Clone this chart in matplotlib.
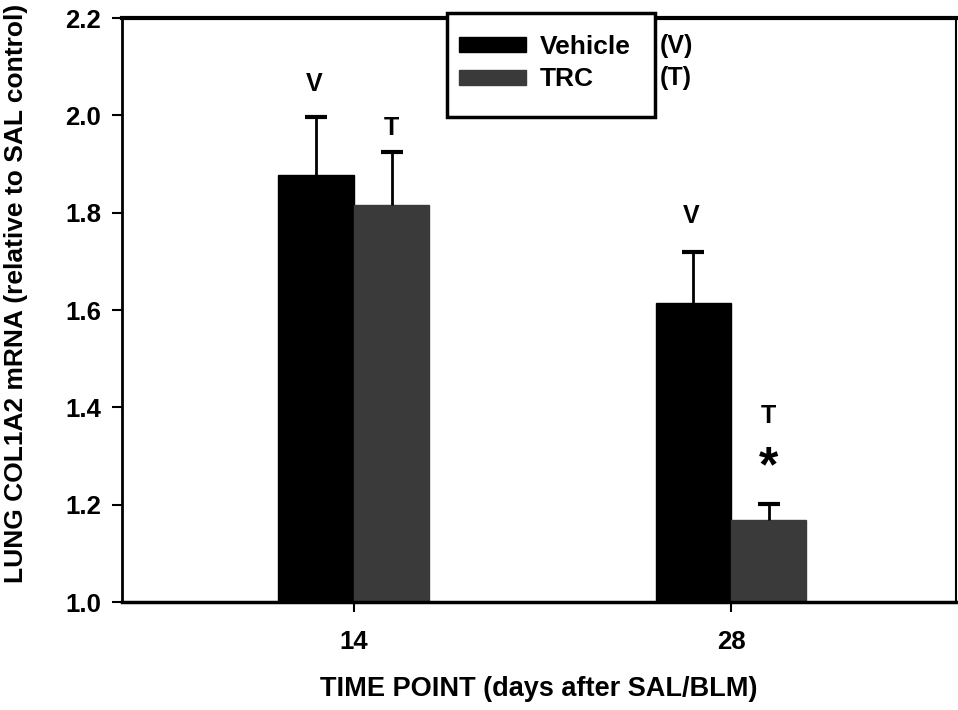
import matplotlib
matplotlib.use("Agg")
import matplotlib.pyplot as plt
from matplotlib.patches import Rectangle
import numpy as np

plt.rcParams['font.family'] = ['Liberation Sans', 'DejaVu Sans']
plt.rcParams['font.weight'] = 'bold'

# data
time_points = ["14", "28"]
vehicle = [1.877, 1.614]
vehicle_err = [0.120, 0.105]
trc = [1.816, 1.169]
trc_err = [0.109, 0.033]

# letters drawn above bars
vehicle_marks = ["V", "V"]
vehicle_mark_y = [2.064, 1.793]
trc_marks = ["T", "T"]
trc_mark_y = [1.975, 1.382]

fig = plt.figure(figsize=(9.58, 7.10), dpi=100)
ax = fig.add_axes([0.1273, 0.1521, 0.8707, 0.8225])

x = np.arange(len(time_points))
w = 0.2
ax.bar(x - w / 2, vehicle, w, color="black", edgecolor="black",
       label="Vehicle")
ax.bar(x + w / 2, trc, w, color="#3a3a3a", edgecolor="#3a3a3a", label="TRC")
for xs, vals, errs in [(x - w / 2, vehicle, vehicle_err),
                       (x + w / 2, trc, trc_err)]:
    eb = ax.errorbar(xs, vals, yerr=[np.zeros(len(vals)), errs], fmt="none",
                     ecolor="black", elinewidth=2, capsize=8, capthick=3)
    # only keep the upper cap
    eb[1][0].set_visible(False)

for i in range(len(x)):
    ax.text(x[i] - w / 2 - 0.005, vehicle_mark_y[i], vehicle_marks[i],
            ha="center", va="center", fontsize=18, fontweight="bold")
    ax.text(x[i] + w / 2, trc_mark_y[i], trc_marks[i],
            ha="center", va="center", fontsize=18, fontweight="bold")
# significance star
ax.text(x[1] + w / 2, 1.275, "*", ha="center", va="center",
        fontsize=36, fontweight="bold")

ax.set_ylim(1.0, 2.2)
ax.set_yticks(np.arange(1.0, 2.21, 0.2))
ax.set_xlim(-0.615, 1.597)
ax.set_xticks(x)
ax.set_xticklabels(time_points)
ax.tick_params(direction="out", length=7, width=1.5, labelsize=18.5, pad=8)
ax.tick_params(axis="x", pad=13)
for lab in ax.get_xticklabels() + ax.get_yticklabels():
    lab.set_fontweight("bold")
for s in ax.spines.values():
    s.set_linewidth(1.5)
ax.spines["top"].set_linewidth(3)
ax.spines["bottom"].set_linewidth(2.5)
ax.spines["left"].set_linewidth(2)

ax.set_ylabel("LUNG COL1A2 mRNA (relative to SAL control)", fontsize=19,
              fontweight="bold")
ax.yaxis.set_label_coords(-0.113, 0.529)
ax.set_xlabel("TIME POINT (days after SAL/BLM)", fontsize=19.5,
              fontweight="bold", labelpad=16)

# legend box (drawn separately so its padding can match)
fig.patches.append(Rectangle((447 / 958, 1 - 117 / 710), 208 / 958, 104 / 710,
                             transform=fig.transFigure, facecolor="white",
                             edgecolor="black", linewidth=2.5, zorder=3))
leg = fig.legend(loc="upper left", bbox_to_anchor=(459 / 958, 1 - 35 / 710),
                 fontsize=19, frameon=False, handlelength=2.55,
                 handleheight=0.5, handletextpad=0.5, borderpad=0,
                 labelspacing=0.32, borderaxespad=0)
leg.set_zorder(5)
for t in leg.get_texts():
    t.set_fontweight("bold")

fig.text(0.689, 1 - 46 / 710, "(V)", fontsize=18, fontweight="bold",
         va="center")
fig.text(0.689, 1 - 78 / 710, "(T)", fontsize=18, fontweight="bold",
         va="center")

fig.savefig("out.png", dpi=100)
